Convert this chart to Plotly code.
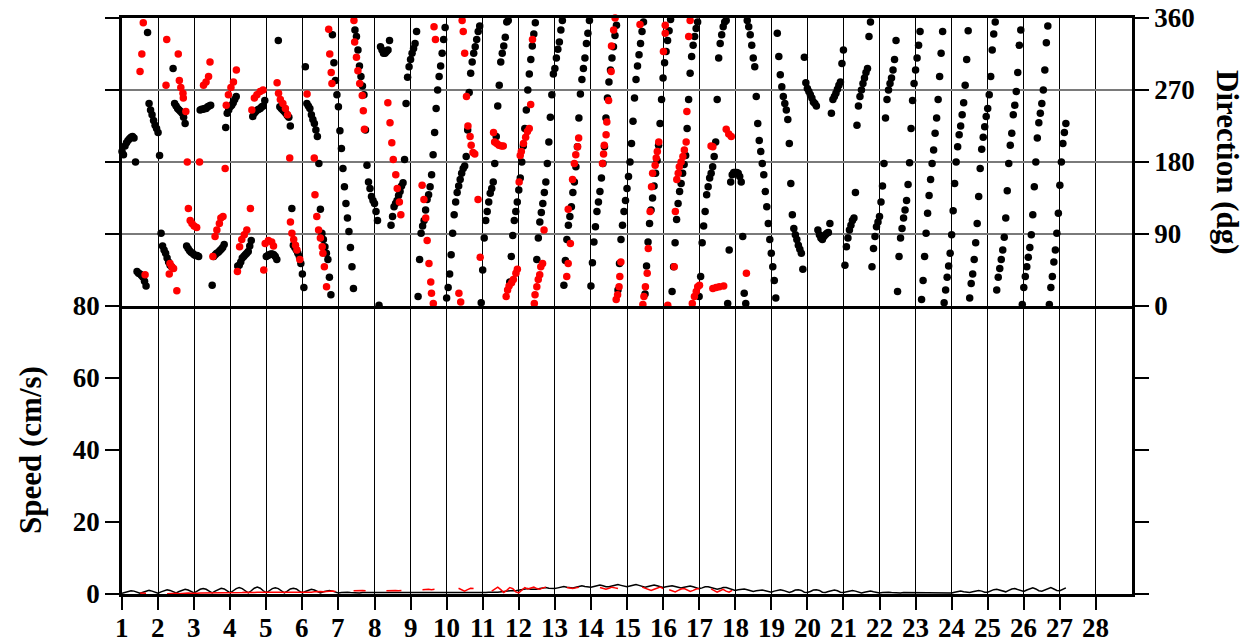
import plotly.graph_objects as go

# ---------------------------------------------------------------------------
# Current meter record: hourly direction (degrees, black), one list per day
# starting at day 1; values are hours 0..23 of that day.
# ---------------------------------------------------------------------------
black_dir_days = [
    [193, 189, 200, 204, 207, 209, 211, 212, 210, 180, 43, 41, 40, 38, 36, 31, 25, 342, 253, 245, 239, 232, 226, 222],
    [217, 188, 91, 75, 70, 66, 60, 55, 51, 49, 297, 253, 250, 247, 245, 243, 241, 236, 228, 75, 72, 69, 67, 66],
    [64, 63, 63, 62, 245, 246, 246, 247, 247, 249, 250, 251, 26, 62, 64, 66, 67, 69, 71, 73, 77, 223, 241, 245],
    [249, 251, 254, 258, 262, 50, 51, 55, 60, 62, 64, 66, 68, 75, 82, 237, 241, 243, 245, 246, 247, 249, 250, 257],
    [62, 63, 64, 65, 65, 64, 62, 58, 332, 249, 247, 245, 243, 241, 238, 236, 225, 122, 76, 73, 70, 66, 62, 53],
    [40, 23, 299, 253, 250, 247, 239, 233, 228, 220, 212, 178, 121, 91, 83, 74, 66, 58, 36, 14, 339, 304, 282, 264],
    [249, 219, 197, 172, 149, 128, 110, 93, 73, 49, 22, 345, 337, 320, 300, 287, 275, 264, 220, 176, 155, 147, 137, 132],
    [128, 118, 107, 1, 324, 320, 316, 316, 318, 320, 332, 101, 112, 124, 128, 132, 138, 143, 150, 154, 183, 253, 286, 299],
    [308, 316, 322, 328, 343, 12, 58, 91, 100, 107, 120, 133, 139, 149, 164, 189, 217, 247, 270, 287, 300, 316, 333, 348],
    [10, 23, 40, 64, 91, 114, 130, 142, 150, 158, 166, 172, 175, 187, 220, 267, 291, 305, 316, 324, 333, 343, 350, 4],
    [45, 85, 107, 118, 130, 141, 147, 155, 178, 212, 250, 276, 305, 316, 325, 336, 355, 357, 30, 62, 88, 107, 118, 130],
    [145, 160, 180, 200, 222, 245, 270, 290, 308, 325, 340, 354, 58, 85, 105, 117, 128, 142, 155, 178, 205, 236, 264, 290],
    [297, 310, 321, 330, 345, 357, 26, 57, 83, 101, 112, 124, 142, 155, 174, 199, 235, 265, 283, 297, 310, 328, 341, 357],
    [25, 54, 80, 99, 118, 130, 143, 160, 178, 199, 235, 260, 280, 295, 310, 324, 338, 351, 20, 53, 83, 101, 118, 132],
    [147, 162, 180, 203, 231, 260, 283, 300, 314, 328, 343, 355, 15, 50, 80, 103, 120, 135, 150, 166, 182, 201, 228, 258],
    [285, 304, 318, 332, 344, 358, 18, 49, 79, 108, 128, 143, 153, 166, 177, 188, 222, 258, 291, 312, 326, 337, 347, 355],
    [12, 37, 79, 100, 118, 139, 149, 160, 166, 174, 187, 205, 258, 310, 328, 339, 349, 355, 357, 3, 70, 155, 164, 167],
    [167, 167, 166, 162, 155, 87, 16, 3, 357, 349, 339, 326, 310, 299, 262, 228, 207, 193, 178, 164, 143, 124, 103, 83],
    [66, 49, 32, 10, 341, 312, 289, 274, 262, 253, 245, 233, 203, 153, 114, 97, 89, 83, 76, 71, 66, 46, 311, 279],
    [272, 268, 264, 260, 255, 253, 250, 95, 89, 85, 83, 87, 89, 91, 92, 103, 241, 258, 262, 266, 271, 276, 280, 303],
    [320, 51, 74, 85, 95, 101, 107, 110, 142, 226, 250, 262, 270, 278, 285, 292, 297, 337, 355, 49, 72, 87, 99, 105],
    [112, 130, 150, 178, 235, 258, 270, 278, 285, 295, 308, 332, 18, 62, 85, 97, 110, 120, 132, 152, 179, 222, 257, 278],
    [295, 310, 326, 343, 8, 32, 62, 91, 116, 138, 158, 178, 195, 216, 235, 258, 287, 316, 343, 4, 20, 36, 50, 66],
    [89, 119, 153, 180, 199, 214, 225, 239, 254, 276, 308, 344, 10, 28, 40, 58, 79, 103, 137, 172, 196, 211, 224, 237],
    [247, 264, 287, 320, 340, 355, 20, 36, 47, 58, 70, 86, 110, 144, 178, 201, 216, 239, 251, 268, 292, 326, 345, 2],
    [23, 37, 49, 61, 73, 89, 114, 149, 180, 210, 229, 241, 253, 270, 295, 329, 350, 2, 23, 37, 55, 70, 91, 116],
    [151, 180, 203, 217, 228],
]

# Black speed (cm/s), two-hourly, 12 values per day from day 1
black_spd_days = [
    [0.2, 0.5, 0.8, 0.9, 0.8, 0.5, 0.2, 0.5, 0.8, 1.0, 0.8, 0.5],
    [0.2, 0.6, 1.0, 1.2, 1.0, 0.6, 0.3, 0.7, 1.1, 1.3, 1.1, 0.7],
    [0.3, 0.8, 1.3, 1.5, 1.3, 0.8, 0.3, 0.8, 1.3, 1.6, 1.4, 0.8],
    [0.3, 0.9, 1.5, 1.8, 1.5, 0.9, 0.3, 0.9, 1.6, 1.9, 1.6, 0.9],
    [0.3, 0.9, 1.5, 1.7, 1.5, 0.9, 0.3, 0.8, 1.4, 1.6, 1.4, 0.8],
    [0.3, 0.7, 1.1, 1.3, 1.1, 0.7, 0.3, 0.6, 0.9, 1.0, 0.8, 0.5],
    [0.3, 0.4, 0.5, 0.5, 0.4, 0.3, 0.3, 0.3, 0.4, 0.4, 0.3, 0.3],
    [0.2, 0.3, 0.3, 0.4, 0.3, 0.2, 0.2, 0.3, 0.4, 0.4, 0.3, 0.2],
    [0.2, 0.3, 0.4, 0.4, 0.3, 0.2, 0.2, 0.2, 0.3, 0.3, 0.2, 0.2],
    [0.2, 0.2, 0.3, 0.3, 0.2, 0.2, 0.2, 0.2, 0.3, 0.3, 0.3, 0.3],
    [0.3, 0.4, 0.5, 0.6, 0.5, 0.5, 0.6, 0.8, 1.0, 1.1, 1.0, 0.9],
    [1.0, 1.2, 1.4, 1.5, 1.3, 1.2, 1.3, 1.5, 1.7, 1.8, 1.6, 1.5],
    [1.5, 1.7, 2.0, 2.1, 1.9, 1.7, 1.7, 1.9, 2.2, 2.3, 2.1, 1.9],
    [1.9, 2.1, 2.4, 2.5, 2.3, 2.0, 2.0, 2.2, 2.5, 2.6, 2.4, 2.1],
    [2.0, 2.2, 2.5, 2.6, 2.4, 2.1, 1.9, 2.1, 2.4, 2.5, 2.3, 2.0],
    [1.8, 2.0, 2.2, 2.3, 2.1, 1.8, 1.7, 1.9, 2.1, 2.2, 2.0, 1.7],
    [1.5, 1.7, 2.0, 2.0, 1.8, 1.5, 1.3, 1.5, 1.8, 1.8, 1.6, 1.3],
    [1.0, 1.2, 1.4, 1.4, 1.2, 0.9, 0.7, 0.9, 1.1, 1.1, 0.9, 0.7],
    [0.5, 0.8, 1.1, 1.2, 1.0, 0.6, 0.4, 0.7, 1.1, 1.2, 1.0, 0.5],
    [0.4, 0.7, 1.1, 1.2, 1.0, 0.5, 0.4, 0.7, 1.0, 1.1, 0.9, 0.5],
    [0.4, 0.6, 0.9, 1.0, 0.8, 0.5, 0.3, 0.5, 0.7, 0.8, 0.6, 0.4],
    [0.3, 0.4, 0.5, 0.5, 0.4, 0.3, 0.2, 0.3, 0.4, 0.4, 0.3, 0.2],
    [0.2, 0.3, 0.3, 0.3, 0.3, 0.2, 0.2, 0.3, 0.4, 0.4, 0.3, 0.3],
    [0.3, 0.5, 0.7, 0.8, 0.6, 0.4, 0.4, 0.6, 0.9, 1.0, 0.8, 0.5],
    [0.5, 0.9, 1.2, 1.3, 1.1, 0.7, 0.6, 1.0, 1.4, 1.5, 1.2, 0.8],
    [0.7, 1.1, 1.5, 1.7, 1.4, 0.9, 0.8, 1.2, 1.6, 1.8, 1.4, 1.0],
    [0.9, 1.3, 1.7],
]

# Red record: direction samples (day, degrees)
red_t = [
    1.50, 1.55, 1.59, 1.64,
    2.22, 2.24, 2.31, 2.33, 2.38, 2.43, 2.52, 2.56, 2.59, 2.63, 2.69, 2.70, 2.77, 2.81, 2.84, 2.89, 2.94, 3.00, 3.07, 3.15,
    3.26, 3.33, 3.40, 3.44, 3.52, 3.58, 3.63, 3.70, 3.74, 3.80, 3.86, 3.89, 3.95, 4.02, 4.09, 4.17,
    4.20, 4.26, 4.32, 4.39, 4.46, 4.56, 4.60, 4.67, 4.74, 4.83, 4.91, 4.93, 4.97, 5.06, 5.15, 5.20,
    5.30, 5.34, 5.39, 5.46, 5.53, 5.59, 5.65, 5.67, 5.71, 5.76, 5.81, 5.85, 5.93,
    6.13, 6.33, 6.35, 6.40, 6.45, 6.50, 6.55, 6.57, 6.61, 6.67, 6.73, 6.76, 6.80, 6.82,
    7.43, 7.45, 7.50, 7.54, 7.59, 7.66, 7.69, 7.72,
    8.37, 8.43, 8.48, 8.52, 8.59, 8.63, 8.69, 8.73,
    9.32, 9.37, 9.42, 9.46, 9.51, 9.56, 9.58, 9.63, 9.65, 9.69,
    10.34, 10.39, 10.43, 10.46, 10.50, 10.55, 10.59, 10.65, 10.68, 10.73, 10.78, 10.87, 10.93,
    11.30, 11.33, 11.39, 11.45, 11.52, 11.57, 11.65, 11.69, 11.73, 11.80, 11.85, 11.92, 11.96,
    12.01, 12.04, 12.07, 12.13, 12.19, 12.24, 12.29, 12.33, 12.38, 12.43, 12.45, 12.50, 12.54, 12.58, 12.61, 12.66, 12.70,
    13.33, 13.37, 13.37, 13.43, 13.49, 13.54, 13.58, 13.63, 13.66,
    14.32, 14.35, 14.37, 14.42, 14.44, 14.49, 14.56, 14.57, 14.63, 14.67, 14.70, 14.74, 14.78, 14.80, 14.83,
    15.36, 15.44, 15.47, 15.51, 15.56, 15.59, 15.64, 15.68, 15.71, 15.78, 15.81, 15.84, 15.88,
    16.01, 16.06, 16.06, 16.13, 16.31, 16.34, 16.38, 16.42, 16.45, 16.50, 16.55, 16.59, 16.64, 16.66, 16.71, 16.75,
    16.81, 16.87, 16.92, 16.96, 17.01, 17.33, 17.38, 17.38, 17.47, 17.56, 17.68, 17.75, 17.82, 17.89, 18.31,
]
red_dir = [
    293, 315, 354, 39,
    276, 333, 40, 53, 49, 47, 19, 315, 282, 273, 266, 260, 243, 180, 122, 107, 103, 100, 98, 180,
    276, 280, 287, 305, 62, 87, 95, 103, 110, 112, 172, 251, 264, 273, 280, 295,
    43, 74, 83, 89, 95, 122, 245, 260, 264, 268, 270, 45, 78, 82, 80, 75,
    279, 266, 258, 253, 247, 239, 185, 105, 91, 83, 76, 70, 58,
    265, 185, 139, 112, 95, 85, 74, 66, 49, 24, 346, 315, 292, 278,
    357, 330, 311, 294, 278, 263, 244, 221,
    254, 229, 204, 183, 164, 147, 130, 114,
    151, 133, 110, 82, 53, 30, 16, 3, 349, 333,
    16, 5, 357, 343, 316, 262, 225, 212, 201, 192, 190, 133, 61,
    217, 205, 203, 201, 200, 200, 12, 20, 25, 29, 33, 41, 46,
    155, 188, 193, 203, 211, 218, 222, 252, 333, 3, 14, 24, 33, 39, 49, 53, 95,
    37, 53, 121, 78, 158, 178, 189, 199, 210,
    178, 190, 201, 214, 230, 257, 293, 325, 345, 360, 8, 14, 24, 37, 55,
    352, 2, 12, 24, 41, 72, 118, 149, 166, 176, 185, 193, 205,
    318, 341, 351, 1, 49, 118, 158, 166, 174, 180, 187, 195, 205, 243, 337, 357,
    3, 12, 18, 24, 26, 200, 199, 22, 23, 24, 25, 221, 215, 212, 41,
]

# Red speed (cm/s): two-hourly segments, each with its start day
red_spd_start = [1.50, 2.25, 7.42, 8.33, 9.33, 10.33, 11.25, 13.33, 14.25, 15.42, 16.17, 17.33]
red_spd_segs = [
    [0.3, 0.3, 0.2],
    [0.1, 0.2, 0.3, 0.2, 0.1, 0.2, 0.3, 0.3, 0.2, 0.1, 0.2, 0.3,
     0.3, 0.2, 0.2, 0.3, 0.4, 0.3, 0.2, 0.3, 0.4, 0.4, 0.3, 0.2,
     0.3, 0.4, 0.5, 0.4, 0.3, 0.4, 0.5, 0.5, 0.4, 0.3, 0.4, 0.5,
     0.5, 0.4, 0.3, 0.4, 0.5, 0.5, 0.4, 0.3, 0.4, 0.5, 0.5, 0.4,
     0.5, 0.6, 0.7, 0.7, 0.6, 0.7, 0.8, 0.8, 0.7],
    [0.9, 1.0, 1.0, 1.0, 0.9],
    [0.9, 1.0, 1.0, 1.0, 0.9, 1.0],
    [1.2, 1.3, 1.3, 1.2, 1.3],
    [1.6, 1.2, 0.8, 1.2, 1.6, 1.5],
    [0.8, 1.4, 1.9, 1.2, 0.4, 1.0, 1.8, 1.5, 0.6, 0.3, 1.2, 1.8, 1.4, 1.6, 1.9, 1.5, 1.3, 1.7, 1.9],
    [1.8, 1.6, 1.5, 1.7, 1.9],
    [1.8, 1.5, 1.3, 1.6, 1.9, 1.7, 1.5],
    [1.9, 1.6, 1.3, 1.0, 1.3, 1.7, 1.9, 1.5],
    [1.2, 0.8, 0.6, 1.0, 1.4, 1.5, 1.1, 0.7, 1.0, 1.4, 1.5],
    [1.4, 0.9, 0.5, 0.9, 1.3, 0.8, 0.5, 1.0],
]

day_ticks = list(range(1, 29))
speed_ticks = [0, 20, 40, 60, 80]
dir_ticks = [0, 90, 180, 270, 360]

# ---------------------------------------------------------------------------
# Build plotting series
# ---------------------------------------------------------------------------
bx, by = [], []
for d, vals in enumerate(black_dir_days, start=1):
    for h, v in enumerate(vals):
        bx.append(d + h / 24.0)
        by.append(v)

sx, sy = [], []
for d, vals in enumerate(black_spd_days, start=1):
    for k, v in enumerate(vals):
        sx.append(d + k / 12.0)
        sy.append(v)

rsx, rsy = [], []
for t0, seg in zip(red_spd_start, red_spd_segs):
    for k, v in enumerate(seg):
        rsx.append(t0 + k / 12.0)
        rsy.append(v)
    rsx.append(None)
    rsy.append(None)

FONT = "Liberation Serif, Times New Roman, serif"
BLACK = "#000000"
RED = "#ff0000"
TICK_SIZE = 27
TITLE_SIZE = 31

fig = go.Figure()

# Speed panel (bottom)
fig.add_trace(go.Scatter(x=sx, y=sy, mode="lines", line=dict(color=BLACK, width=1.5),
                         xaxis="x", yaxis="y", hoverinfo="skip"))
fig.add_trace(go.Scatter(x=rsx, y=rsy, mode="lines", line=dict(color=RED, width=1.5),
                         connectgaps=False, xaxis="x", yaxis="y", hoverinfo="skip"))

# Direction panel (top)
fig.add_trace(go.Scatter(x=bx, y=by, mode="markers",
                         marker=dict(color=BLACK, size=7.5, line=dict(width=0)),
                         cliponaxis=False, xaxis="x2", yaxis="y2", hoverinfo="skip"))
fig.add_trace(go.Scatter(x=red_t, y=red_dir, mode="markers",
                         marker=dict(color=RED, size=7.5, line=dict(width=0)),
                         cliponaxis=False, xaxis="x2", yaxis="y2", hoverinfo="skip"))

x_dom = [122 / 1253, 1132 / 1253]
bottom_dom = [(643 - 594) / 643, (643 - 306) / 643]
top_dom = [(643 - 306) / 643, (643 - 18) / 643]
tickfont = dict(family=FONT, size=TICK_SIZE, color=BLACK, weight="bold")

# Day numbers under the time axis, placed as text on the x data scale
day_labels = [
    dict(text=str(v), x=v, y=(643 - 628) / 643, xref="x", yref="paper",
         showarrow=False, xanchor="center", yanchor="middle", font=tickfont)
    for v in day_ticks
]

fig.update_layout(
    width=1253, height=643, autosize=False,
    margin=dict(l=0, r=0, t=0, b=0, pad=0),
    paper_bgcolor="white", plot_bgcolor="white",
    font=dict(family=FONT, size=TICK_SIZE, color=BLACK, weight="bold"),
    showlegend=False,
    xaxis=dict(domain=x_dom, anchor="y", range=[1, 29], tickvals=day_ticks,
               showticklabels=False,
               ticks="outside", ticklen=13, tickwidth=1.5, tickcolor=BLACK,
               showgrid=True, gridcolor=BLACK, gridwidth=1,
               showline=True, linecolor=BLACK, linewidth=2.5, mirror=False,
               zeroline=False, automargin=False),
    xaxis2=dict(domain=x_dom, anchor="y2", matches="x", range=[1, 29], tickvals=day_ticks,
                showticklabels=False, ticks="",
                showgrid=True, gridcolor=BLACK, gridwidth=1,
                showline=True, linecolor=BLACK, linewidth=2.5, mirror=True,
                zeroline=False, automargin=False),
    yaxis=dict(domain=bottom_dom, anchor="x", range=[0, 80], tickvals=speed_ticks,
               tickfont=tickfont, ticks="outside", ticklen=14, tickwidth=1.5, tickcolor=BLACK,
               showgrid=False, zeroline=False, automargin=False,
               showline=True, linecolor=BLACK, linewidth=2.5, mirror="ticks"),
    yaxis2=dict(domain=top_dom, anchor="x2", side="right", range=[0, 360], tickvals=dir_ticks,
                tickfont=tickfont, ticks="outside", ticklen=14, tickwidth=1.5, tickcolor=BLACK,
                showgrid=True, gridcolor="#7a7a7a", gridwidth=1.5, zeroline=False, automargin=False,
                showline=True, linecolor=BLACK, linewidth=2.5, mirror="ticks"),
    annotations=day_labels + [
        dict(text="Speed (cm/s)", x=30 / 1253, y=(643 - 450) / 643, xref="paper", yref="paper",
             showarrow=False, textangle=-90, xanchor="center", yanchor="middle",
             font=dict(family=FONT, size=TITLE_SIZE, color=BLACK, weight="bold")),
        dict(text="Direction (dg)", x=1228 / 1253, y=(643 - 162) / 643, xref="paper", yref="paper",
             showarrow=False, textangle=90, xanchor="center", yanchor="middle",
             font=dict(family=FONT, size=TITLE_SIZE, color=BLACK, weight="bold")),
    ],
)

fig.write_html("out.html")
